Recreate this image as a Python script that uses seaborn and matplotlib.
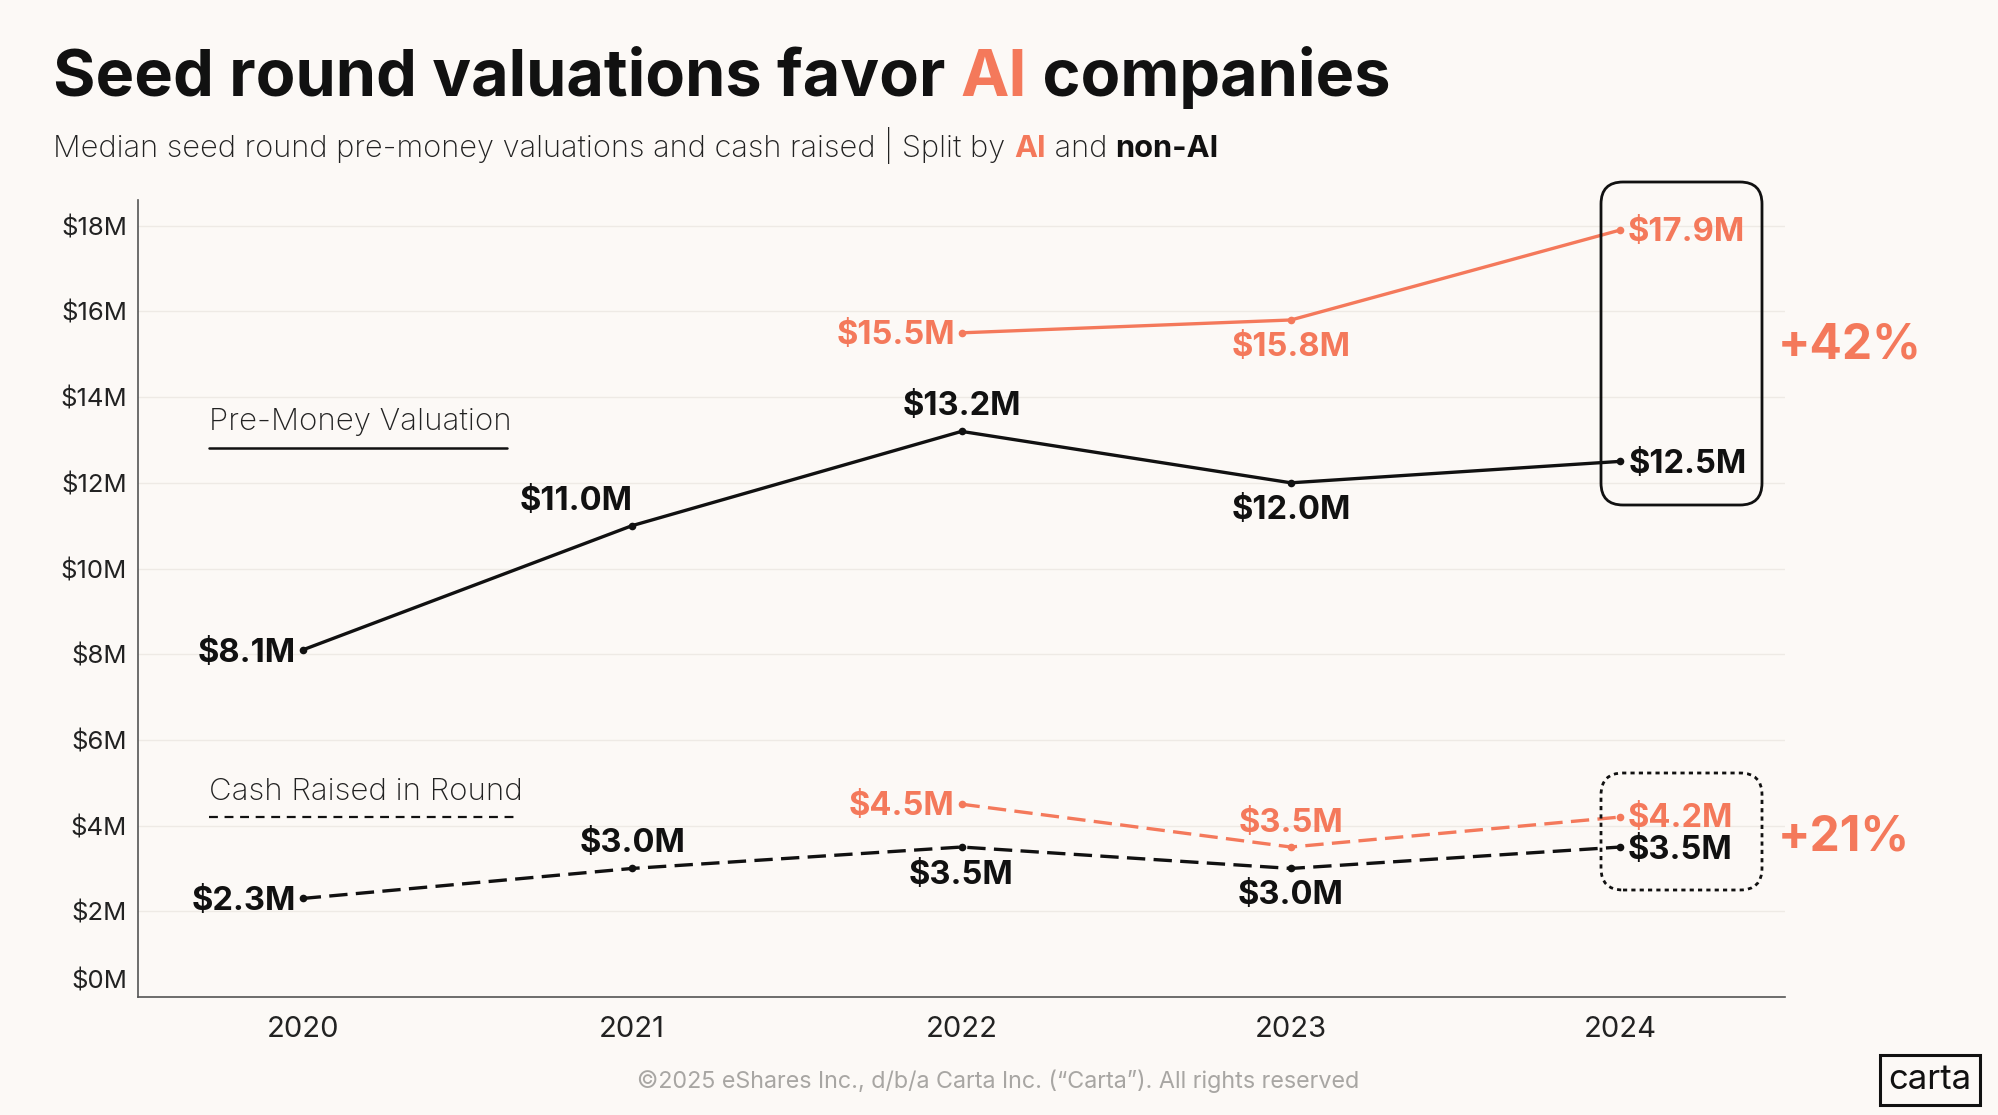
import matplotlib.pyplot as plt
import numpy as np
import pandas as pd
import seaborn as sns
from matplotlib.patches import FancyBboxPatch
from matplotlib.transforms import IdentityTransform, ScaledTranslation

# ---- data ----
years = [2020, 2021, 2022, 2023, 2024]
ai_years = [2022, 2023, 2024]

premoney_non_ai = [8.1, 11.0, 13.2, 12.0, 12.5]
premoney_ai = [15.5, 15.8, 17.9]
cash_non_ai = [2.3, 3.0, 3.5, 3.0, 3.5]
cash_ai = [4.5, 3.5, 4.2]

y_ticks = [0, 2, 4, 6, 8, 10, 12, 14, 16, 18]
y_tick_labels = [f"${v}M" for v in y_ticks]

title_parts = ["Seed round valuations favor ", "AI", " companies"]
subtitle_parts = ["Median seed round pre-money valuations and cash raised | Split by ", "AI", " and ", "non-AI"]
premium_labels = ["+42%", "+21%"]
footer = "\u00a92025 eShares Inc., d/b/a Carta Inc. (\u201cCarta\u201d). All rights reserved"

ORANGE = "#F4795B"
BLACK = "#111111"
BG = "#FCF9F6"
FONT = "Inter"

sns.set_theme(style="white")
plt.rcParams["font.family"] = [FONT, "DejaVu Sans"]

df = pd.concat([
    pd.DataFrame({"year": years, "value": premoney_non_ai, "series": "premoney_non_ai"}),
    pd.DataFrame({"year": ai_years, "value": premoney_ai, "series": "premoney_ai"}),
    pd.DataFrame({"year": years, "value": cash_non_ai, "series": "cash_non_ai"}),
    pd.DataFrame({"year": ai_years, "value": cash_ai, "series": "cash_ai"}),
], ignore_index=True)

styles = {
    "premoney_non_ai": dict(color=BLACK, dashes=False),
    "premoney_ai": dict(color=ORANGE, dashes=False),
    "cash_non_ai": dict(color=BLACK, dashes=True),
    "cash_ai": dict(color=ORANGE, dashes=True),
}

fig = plt.figure(figsize=(19.99, 11.15), dpi=100, facecolor=BG)
ax = fig.add_axes([138 / 1999, 118 / 1115, 1647 / 1999, 797 / 1115])
ax.set_facecolor(BG)

for name, st in styles.items():
    sub = df[df["series"] == name]
    sns.lineplot(data=sub, x="year", y="value", color=st["color"], linewidth=2.4,
                 marker="o", markersize=5.5, markeredgewidth=0, ax=ax, legend=False)
    if st["dashes"]:
        ax.lines[-1].set_dashes([5.5, 2.5])

ax.set_xlim(2019.5, 2024.5)
ax.set_ylim(0, 18.6)
ax.set_xticks(years)
ax.set_xticklabels([str(y) for y in years], fontsize=21, color="#222222")
ax.set_yticks(y_ticks)
ax.set_yticklabels(y_tick_labels, fontsize=18.5, color="#222222")
ax.tick_params(axis="both", length=0, pad=8)
ax.tick_params(axis="x", pad=14)
ax.set_xlabel("")
ax.set_ylabel("")
for y in y_ticks[1:]:
    ax.axhline(y, color="#EEEAE5", linewidth=1, zorder=0)
for side in ["top", "right"]:
    ax.spines[side].set_visible(False)
for side in ["left", "bottom"]:
    ax.spines[side].set_color("#555555")
    ax.spines[side].set_linewidth(1.2)

# nudge the $0M label up off the baseline
lab0 = ax.get_yticklabels()[0]
lab0.set_transform(lab0.get_transform() + ScaledTranslation(0, 0.18, fig.dpi_scale_trans))

# ---- value labels ----
placement = {
    "premoney_non_ai": [(-7, -4, "right"), (-56, 24, "center"), (0, 25, "center"), (0, -28, "center"), (8, -3, "left")],
    "premoney_ai": [(-6, -3, "right"), (0, -28, "center"), (7, -3, "left")],
    "cash_non_ai": [(-7, -3, "right"), (0, 25, "center"), (0, -28, "center"), (0, -27, "center"), (7, -3, "left")],
    "cash_ai": [(-7, -2, "right"), (0, 24, "center"), (7, -1, "left")],
}
for name, st in styles.items():
    sub = df[df["series"] == name]
    for (x, v), (dx, dy, ha) in zip(zip(sub["year"], sub["value"]), placement[name]):
        ax.annotate(f"${v:.1f}M", (x, v), xytext=(dx, dy), textcoords="offset pixels",
                    ha=ha, va="center", fontsize=23.5, fontweight="bold", color=st["color"])

# ---- in-chart legend ----
ax.text(164 * 1.275, 1115 - 331 * 1.275, "Pre-Money Valuation", transform=IdentityTransform(),
        fontsize=22.5, fontweight="light", color="#222222", va="center", ha="left")
fig.add_artist(plt.Line2D([164 * 1.275, 398 * 1.275], [1115 - 351 * 1.275] * 2,
                          transform=IdentityTransform(), color=BLACK, linewidth=1.8))
ax.text(164 * 1.275, 1115 - 621 * 1.275, "Cash Raised in Round", transform=IdentityTransform(),
        fontsize=22.5, fontweight="light", color="#222222", va="center", ha="left")
fig.add_artist(plt.Line2D([164 * 1.275, 407 * 1.275], [1115 - 641 * 1.275] * 2,
                          transform=IdentityTransform(), color=BLACK, linewidth=1.6, dashes=[4, 3]))

# ---- highlight boxes ----
box1 = FancyBboxPatch((1601, 1115 - 505), 161, 323, boxstyle="round,pad=0,rounding_size=22",
                      transform=IdentityTransform(), fill=False, edgecolor=BLACK, linewidth=2)
box2 = FancyBboxPatch((1601, 1115 - 890), 161, 117, boxstyle="round,pad=0,rounding_size=22",
                      transform=IdentityTransform(), fill=False, edgecolor=BLACK, linewidth=2, linestyle=(0, (1.5, 1.5)))
fig.add_artist(box1)
fig.add_artist(box2)
fig.text(1778, 1115 - 271 * 1.275, premium_labels[0], transform=IdentityTransform(),
         fontsize=34.5, fontweight="bold", color=ORANGE, va="center", ha="left")
fig.text(1778, 1115 - 657 * 1.275, premium_labels[1], transform=IdentityTransform(),
         fontsize=34.5, fontweight="bold", color=ORANGE, va="center", ha="left")

# ---- title & subtitle (multi-colour) ----
renderer = fig.canvas.get_renderer()


def rich_text(x, y, parts, colors, weights, size):
    for part, c, w in zip(parts, colors, weights):
        t = fig.text(x, y, part, transform=IdentityTransform(), fontsize=size,
                     fontweight=w, color=c, va="baseline", ha="left")
        x = t.get_window_extent(renderer).x1


rich_text(53, 1115 - 96, title_parts, [BLACK, ORANGE, BLACK], ["bold"] * 3, 46.7)
rich_text(53, 1115 - 157, subtitle_parts, ["#222222", ORANGE, "#222222", BLACK],
          ["light", "bold", "light", "bold"], 22.2)

# ---- footer ----
fig.text(998, 1115 - 848 * 1.275, footer, transform=IdentityTransform(), fontsize=16.8,
         color="#A8A6A3", ha="center", va="center")
fig.text(1930, 1115 - 847 * 1.275, "carta", transform=IdentityTransform(), fontsize=25,
         color=BLACK, ha="center", va="center",
         bbox=dict(boxstyle="square,pad=0.25", facecolor="none", edgecolor=BLACK, linewidth=2.2))

fig.savefig("out.png", dpi=100, facecolor=BG)
